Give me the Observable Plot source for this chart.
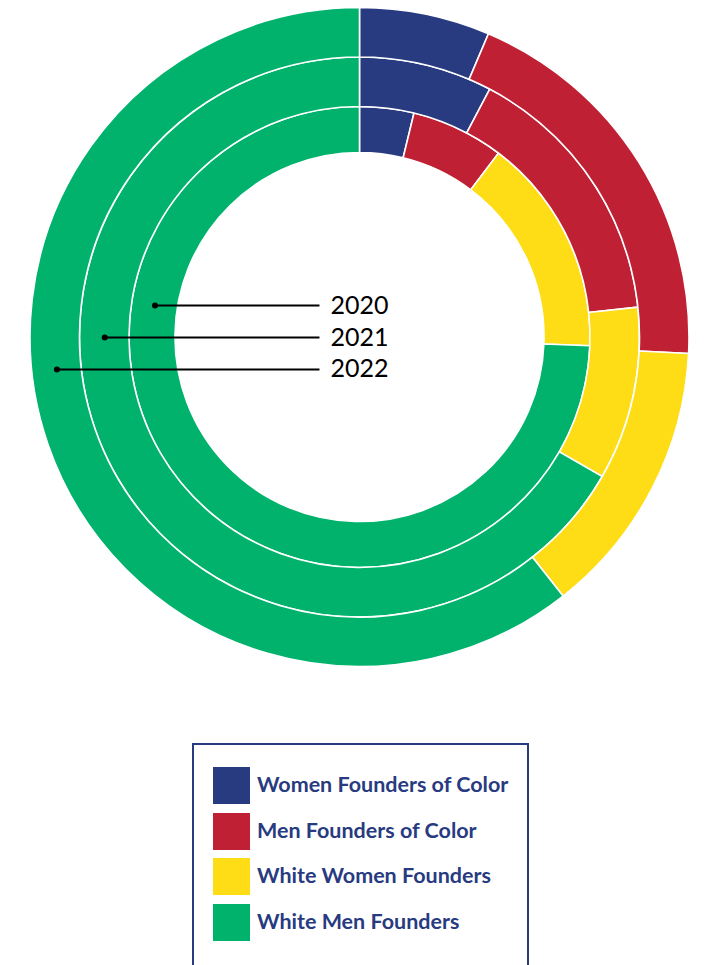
<!DOCTYPE html>
<html>
<head>
<meta charset="utf-8">
<script src="https://cdn.jsdelivr.net/npm/d3@7"></script>
<script src="https://cdn.jsdelivr.net/npm/@observablehq/plot@0.6"></script>
<style>
  html, body { margin: 0; padding: 0; background: #ffffff; }
  body { font-family: Lato, "Noto Sans", sans-serif; width: 709px; overflow: hidden; }
  #chart svg { display: block; }
  .legend {
    margin-left: 192px;
    margin-top: 63px;
    width: 337px;
    height: 260px;
    box-sizing: border-box;
    border: 2px solid #283b80;
    border-bottom: none;
    padding: 22px 0 0 19px;
  }
  .item { display: flex; align-items: center; height: 37px; margin-bottom: 8.7px; }
  .swatch { width: 37px; height: 37px; flex: none; }
  .label { margin-left: 7px; font-weight: 700; font-size: 21.5px; color: #283b80; white-space: nowrap; position: relative; top: -1.5px; }
</style>
</head>
<body>
<div id="chart"></div>
<div class="legend" id="legend"></div>
<script>
// ---- data ----
const years = ["2020", "2021", "2022"];
const categories = [
  "Women Founders of Color",
  "Men Founders of Color",
  "White Women Founders",
  "White Men Founders"
];
const colors = ["#283b80", "#c02034", "#fedd17", "#00b26c"];
const shares2020 = [3.8, 6.5, 15.3, 74.4];
const shares2021 = [7.7, 15.6, 10.0, 66.7];
const shares2022 = [6.4, 19.4, 13.6, 60.6];
const sharesByYear = [shares2020, shares2021, shares2022];

// stacked slices (percent start/end per ring)
const slices = [];
years.forEach((year, ring) => {
  let start = 0;
  sharesByYear[ring].forEach((v, k) => {
    slices.push({year, ring, category: categories[k], start, end: start + v, value: v});
    start += v;
  });
});

// radial & angular scales (data units: outer radius = 1)
const ringScale = d3.scaleLinear([0, 1, 2, 3], [0.56, 0.6995, 0.8498, 1]);
const angleScale = d3.scaleLinear([0, 100], [0, 2 * Math.PI]);

// year label positions
const labelOffset = 0.097;
const labels = years.map((year, ring) => {
  const y = (1 - ring) * labelOffset;
  const rm = ringScale(ring + 0.5);
  return {year, ring, y, x: -Math.sqrt(rm * rm - y * y)};
});
const lineEnd = -0.123;
const textStart = -0.0895;

const R = 329.5, cx = 359.5, cy = 337, W = 709, H = 680;

const plot = Plot.plot({
  width: W,
  height: H,
  marginLeft: cx - R,
  marginRight: W - cx - R,
  marginTop: cy - R,
  marginBottom: H - cy - R,
  x: {domain: [-1, 1], axis: null},
  y: {domain: [-1, 1], axis: null},
  color: {domain: categories, range: colors},
  style: {fontFamily: "Lato, sans-serif", background: "white"},
  marks: [
    Plot.dot(slices, {
      x: () => 0,
      y: () => 0,
      fill: "category",
      render(index, scales, values) {
        const g = d3.create("svg:g");
        const arc = d3.arc();
        const px = (v) => scales.x(v) - scales.x(0);
        for (const i of index) {
          const d = slices[i];
          g.append("path")
            .attr("transform", `translate(${values.x[i]},${values.y[i]})`)
            .attr("d", arc({
              innerRadius: px(ringScale(d.ring)),
              outerRadius: px(ringScale(d.ring + 1)),
              startAngle: angleScale(d.start),
              endAngle: angleScale(d.end)
            }))
            .attr("fill", values.fill[i])
            .attr("stroke", "white")
            .attr("stroke-width", 1.6);
        }
        return g.node();
      }
    }),
    Plot.link(labels, {x1: "x", y1: "y", x2: () => lineEnd, y2: "y", stroke: "black", strokeWidth: 2}),
    Plot.dot(labels, {x: "x", y: "y", r: 3, fill: "black"}),
    Plot.text(labels, {x: () => textStart, y: "y", text: "year", textAnchor: "start", fontSize: 25, fill: "black", fontFamily: "Lato, sans-serif"})
  ]
});
document.getElementById("chart").appendChild(plot);

// legend
const legend = d3.select("#legend");
categories.forEach((c, k) => {
  const item = legend.append("div").attr("class", "item");
  item.append("div").attr("class", "swatch").style("background", colors[k]);
  item.append("div").attr("class", "label").text(c);
});
</script>
</body>
</html>
